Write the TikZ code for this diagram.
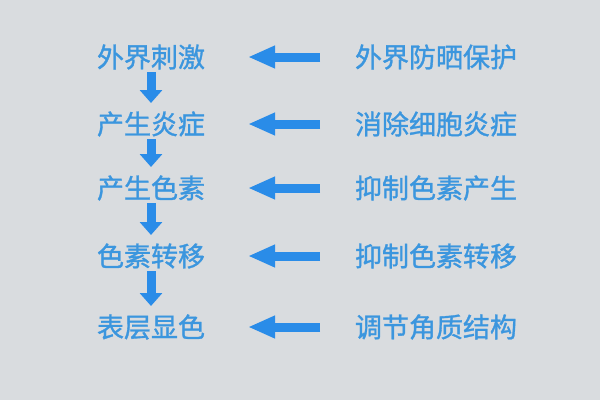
\documentclass[tikz,border=0pt]{standalone}
\usepackage{fontspec}
\newfontfamily\cjk[FakeBold=1.2]{Noto Sans CJK SC}
\usetikzlibrary{arrows.meta}
\definecolor{bgc}{RGB}{217,220,223}
\definecolor{txtc}{RGB}{59,150,222}
\definecolor{arrc}{RGB}{42,140,232}
\tikzset{
  lbl/.style={inner sep=0pt, anchor=center, text=txtc, font=\cjk\fontsize{27}{30}\selectfont},
  downarrow/.style={arrc, line width=9pt, -{Triangle[width=22pt,length=13pt]}, shorten <=15pt, shorten >=21pt},
  leftarrow/.style={arrc, line width=9pt, -{Triangle[width=21pt,length=27pt]}, shorten <=116pt, shorten >=97pt}
}
\begin{document}
\begin{tikzpicture}[x=1pt,y=-1pt]
\fill[bgc] (0,0) rectangle (600,400);
\useasboundingbox (0,0) rectangle (600,400);
\node[lbl] (a1) at (151,57) {外界刺激};
\node[lbl] (a2) at (151,124) {产生炎症};
\node[lbl] (a3) at (151,188) {产生色素};
\node[lbl] (a4) at (151,256) {色素转移};
\node[lbl] (a5) at (151,327) {表层显色};
\node[lbl] (b1) at (436,57) {外界防晒保护};
\node[lbl] (b2) at (436,124) {消除细胞炎症};
\node[lbl] (b3) at (436,188) {抑制色素产生};
\node[lbl] (b4) at (436,256) {抑制色素转移};
\node[lbl] (b5) at (436,327) {调节角质结构};
\draw[downarrow] (a1.center) -- (a2.center);
\draw[downarrow] (a2.center) -- (a3.center);
\draw[downarrow] (a3.center) -- (a4.center);
\draw[downarrow] (a4.center) -- (a5.center);
\foreach \i in {1,...,5}{
  \draw[leftarrow] (b\i.center) -- (a\i.center);
}
\end{tikzpicture}
\end{document}
